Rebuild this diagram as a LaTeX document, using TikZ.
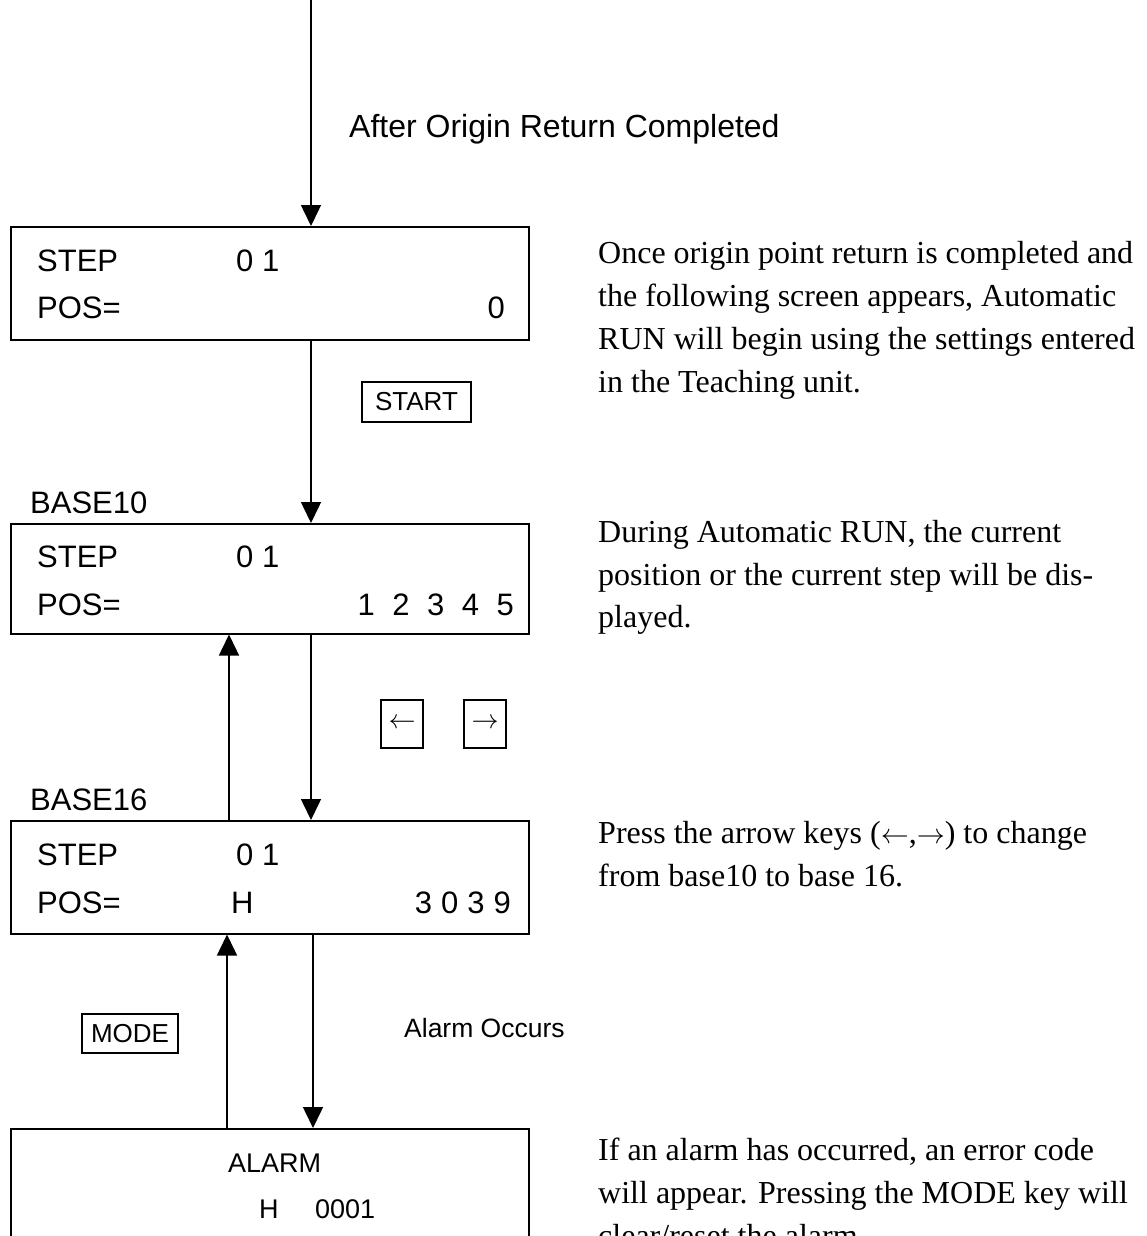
\documentclass[tikz,border=0pt]{standalone}
\usepackage{graphicx}
\usepackage{fontspec}
\setmainfont{Liberation Serif}
\setsansfont{Liberation Sans}
\usetikzlibrary{arrows.meta}
\newcommand{\keyarrowL}[1]{\resizebox{#1}{!}{$\leftarrow$}}
\newcommand{\keyarrowR}[1]{\resizebox{#1}{!}{$\rightarrow$}}
\begin{document}
\begin{tikzpicture}[x=1pt,y=-1pt,
  lcd/.style={draw, line width=1.5pt, inner sep=0pt, minimum width=518pt, anchor=north west},
  keybox/.style={draw, line width=1.4pt, inner sep=0pt, font=\sffamily\fontsize{26}{30}\selectfont},
  arr/.style={line width=1.5pt, -{Triangle[length=21pt,width=20pt]}},
  lcdtxt/.style={font=\sffamily\fontsize{31}{36}\selectfont, inner sep=0pt},
  alarmtxt/.style={font=\sffamily\fontsize{27}{32}\selectfont, inner sep=0pt},
  lbl/.style={font=\sffamily\fontsize{31}{36}\selectfont, inner sep=0pt, anchor=base west},
  para/.style={font=\rmfamily\fontsize{32}{43}\selectfont, inner sep=0pt, anchor=base west}
]
\useasboundingbox (0,0) rectangle (1146,1236);
\clip (0,0) rectangle (1146,1236);

% LCD boxes
\node[lcd, minimum height=113pt] (b1) at (10,226) {};
\node[lcd, minimum height=110pt] (b2) at (10,523) {};
\node[lcd, minimum height=113pt] (b3) at (10,820) {};
\node[lcd, minimum height=150pt] (b4) at (10,1128) {};

% box 1 text
\node[lcdtxt, anchor=base west] (b1s) at (37,271) {STEP};
\node[lcdtxt, anchor=base west] (b1n) at (236,271) {0 1};
\node[lcdtxt, anchor=base west] (b1p) at (37,318) {POS=};
\node[lcdtxt, anchor=base east] (b1v) at (505,318) {0};

% box 2 text
\node[lbl] (base10) at (30,513) {BASE10};
\node[lcdtxt, anchor=base west] (b2s) at (37,567) {STEP};
\node[lcdtxt, anchor=base west] (b2n) at (236,567) {0 1};
\node[lcdtxt, anchor=base west] (b2p) at (37,615) {POS=};
\node[lcdtxt, anchor=base east] (b2v) at (514,615) {1\hspace{17.5pt}2\hspace{17.5pt}3\hspace{17.5pt}4\hspace{17.5pt}5};

% box 3 text
\node[lbl] (base16) at (30,810) {BASE16};
\node[lcdtxt, anchor=base west] (b3s) at (37,865) {STEP};
\node[lcdtxt, anchor=base west] (b3n) at (236,865) {0 1};
\node[lcdtxt, anchor=base west] (b3p) at (37,913) {POS=};
\node[lcdtxt, anchor=base west] (b3h) at (231,913) {H};
\node[lcdtxt, anchor=base east] (b3v) at (511,913) {3\hspace{9pt}0\hspace{9pt}3\hspace{9pt}9};

% alarm box text
\node[alarmtxt, anchor=base west] (b4a) at (228,1172) {ALARM};
\node[alarmtxt, anchor=base west] (b4h) at (259,1218) {H};
\node[alarmtxt, anchor=base west] (b4c) at (315,1218) {0001};

% labels
\node[lbl, font=\sffamily\fontsize{32}{36}\selectfont] (after) at (349,138) {After Origin Return Completed};
\node[keybox, minimum width=109pt, minimum height=40pt] (start) at (416.5,402) {START};
\node[keybox, minimum width=42pt, minimum height=48pt] (kl) at (402,724) {\keyarrowL{27pt}};
\node[keybox, minimum width=42pt, minimum height=48pt] (kr) at (485,724) {\keyarrowR{27pt}};
\node[keybox, minimum width=96pt, minimum height=39pt] (mode) at (130,1033.5) {MODE};
\node[font=\sffamily\fontsize{26.5}{30}\selectfont, inner sep=0pt, anchor=base west] (occ) at (404,1037) {Alarm Occurs};

% connectors
\coordinate (topx) at (311,0);
\coordinate (upx) at (229,0);
\coordinate (dnx) at (313,0);
\coordinate (upy) at (227,0);
\draw[arr] (topx) -- (topx |- b1.north);
\draw[arr] (topx |- b1.south) -- (topx |- b2.north);
\draw[arr] (topx |- b2.south) -- (topx |- b3.north);
\draw[arr] (upx |- b3.north) -- (upx |- b2.south);
\draw[arr] (dnx |- b3.south) -- (dnx |- b4.north);
\draw[arr] (upy |- b4.north) -- (upy |- b3.south);

% explanatory paragraphs
\node[para] (p1a) at (598,263) {Once origin point return is completed and};
\node[para] (p1b) at (598,306) {the following screen appears, Automatic};
\node[para] (p1c) at (598,349) {RUN will begin using the settings entered};
\node[para] (p1d) at (598,392) {in the Teaching unit.};

\node[para] (p2a) at (598,542) {During Automatic RUN, the current};
\node[para] (p2b) at (598,585) {position or the current step will be dis-};
\node[para] (p2c) at (598,627) {played.};

\node[para] (p3a) at (598,843) {Press the arrow keys (\keyarrowL{28pt},\keyarrowR{28pt}) to change};
\node[para] (p3b) at (598,886) {from base10 to base 16.};

\node[para] (p4a) at (598,1160) {If an alarm has occurred, an error code};
\node[para] (p4b) at (598,1203) {will appear. Pressing the MODE key will};
\node[para] (p4c) at (598,1246) {clear/reset the alarm.};
\end{tikzpicture}
\end{document}
